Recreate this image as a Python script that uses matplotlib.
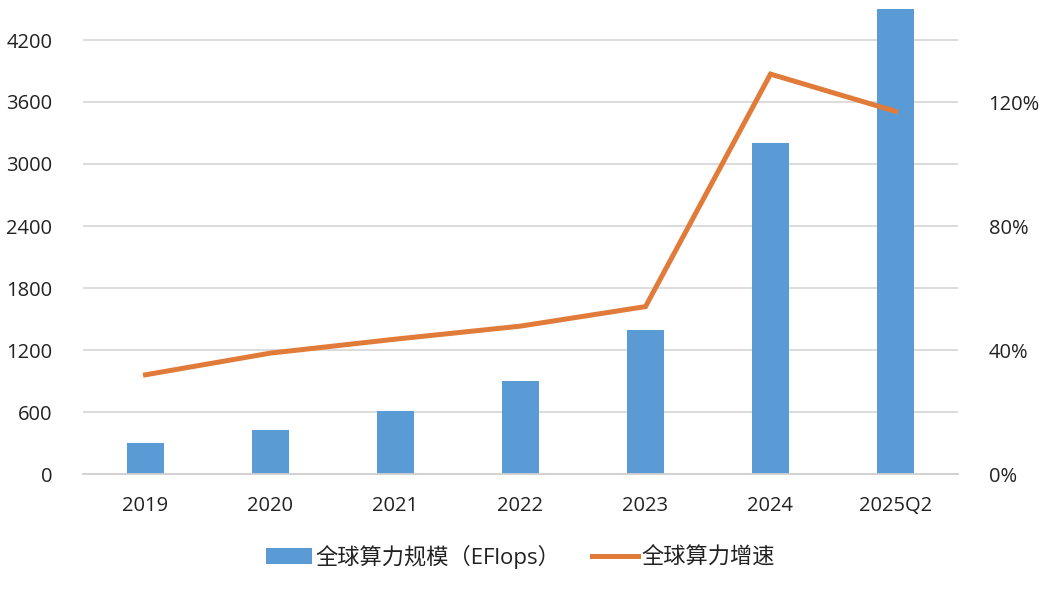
import matplotlib.pyplot as plt
from matplotlib.ticker import FuncFormatter

plt.rcParams['font.family'] = ['Open Sans', 'Noto Sans CJK SC', 'DejaVu Sans']

# 全球算力规模与增速
years = ['2019', '2020', '2021', '2022', '2023', '2024', '2025Q2']
scale = [300, 425, 610, 900, 1395, 3200, 4500]          # EFlops
growth = [0.32, 0.39, 0.435, 0.477, 0.54, 1.29, 1.17]    # 增速

bar_color = '#5B9BD5'
line_color = '#E07B39'

fig = plt.figure(figsize=(10.43, 5.94), dpi=100)
ax = fig.add_axes([83 / 1043, 120 / 594, 875 / 1043, 496 / 594])
ax2 = ax.twinx()

x = range(len(years))
ax.bar(x, scale, width=0.30, color=bar_color, zorder=2, label='全球算力规模（EFlops）')
ax2.plot(x, growth, color=line_color, lw=3.6, solid_joinstyle='miter', zorder=3,
         label='全球算力增速')

ax.set_xlim(-0.5, len(years) - 0.5)
ax.set_ylim(0, 4800)
ax2.set_ylim(0, 1.6)
ax.set_yticks(range(0, 4201, 600))
ax2.set_yticks([0, 0.4, 0.8, 1.2])
ax2.yaxis.set_major_formatter(FuncFormatter(lambda v, _: f'{v:.0%}'))

ax.grid(axis='y', color='#D9D9D9', lw=1.3, zorder=0)
ax.set_axisbelow(True)
for a in (ax, ax2):
    for s in a.spines.values():
        s.set_visible(False)
ax.spines['bottom'].set_visible(True)
ax.spines['bottom'].set_color('#D0D0D0')
ax.spines['bottom'].set_linewidth(1.3)

ax.set_xticks(list(x))
ax.set_xticklabels(years)
ax.tick_params(axis='x', length=0, pad=16, labelsize=14.5, labelcolor='#222222')
ax.tick_params(axis='y', length=0, pad=22, labelsize=14.5, labelcolor='#222222')
ax2.tick_params(axis='y', length=0, pad=22, labelsize=14.5, labelcolor='#222222')

# 图例放在底部
h1, l1 = ax.get_legend_handles_labels()
h2, l2 = ax2.get_legend_handles_labels()
fig.legend(h1 + h2, l1 + l2, loc='center', bbox_to_anchor=(0.499, 37 / 594), ncol=2,
           frameon=False, fontsize=16, handlelength=2.1, handleheight=0.75,
           handletextpad=0.15, columnspacing=1.4, labelcolor='#222222')

fig.savefig('out.png', dpi=100)
